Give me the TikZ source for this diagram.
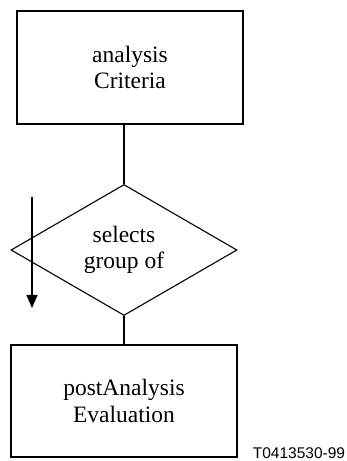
\documentclass[tikz,border=0pt]{standalone}
\usepackage{fontspec}
\setmainfont{Liberation Serif}
\newfontfamily\labelfont{Liberation Sans}
\usetikzlibrary{shapes.geometric,arrows.meta}
\begin{document}
\begin{tikzpicture}[x=1pt,y=1pt,
  boxnode/.style={draw,line width=1.1pt,rectangle,minimum width=226pt,minimum height=113pt,inner sep=0pt,align=center,font=\fontsize{23.5}{26.5}\selectfont},
  decnode/.style={draw,line width=1.1pt,diamond,minimum width=226pt,minimum height=131pt,inner sep=0pt,align=center,font=\fontsize{23.5}{26.5}\selectfont},
  link/.style={line width=1.8pt},
  flowarrow/.style={line width=1.5pt,-{Triangle[length=13pt,width=11pt]}}]
\useasboundingbox (0,0) rectangle (346,461);
\node[boxnode] (crit) at (130,393.5) {analysis\\Criteria};
\node[decnode] (sel) at (124,211) {selects\\group of};
\node[boxnode,minimum height=112pt] (eval) at (124,60) {postAnalysis\\Evaluation};
\draw[link] (crit.south -| sel.north) -- (sel.north);
\draw[link] (sel.south) -- (eval.north);
\coordinate (arrS) at (32,264);
\coordinate (arrE) at (32,153);
\draw[flowarrow] (arrS) -- (arrE);
\node[font=\labelfont\fontsize{15.5}{18}\selectfont] (tag) at (299,7.5) {T0413530-99};
\end{tikzpicture}
\end{document}
